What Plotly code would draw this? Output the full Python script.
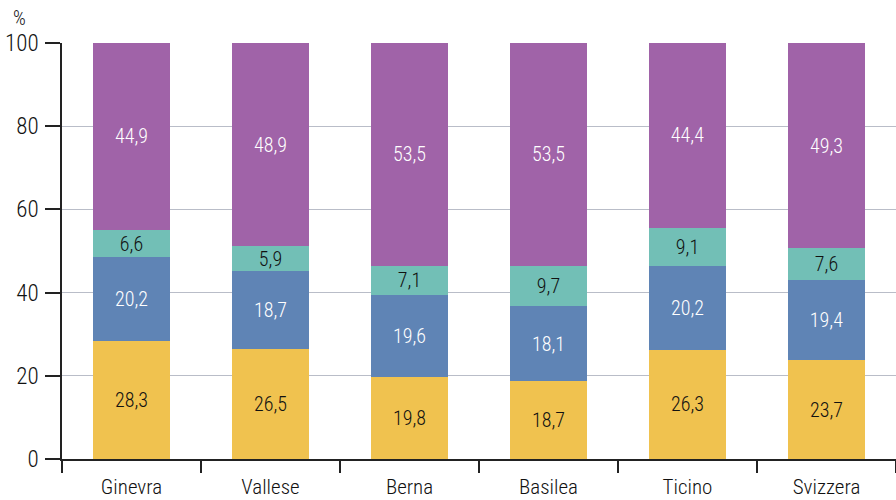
import plotly.graph_objects as go

# Regions and shares (%) of each component
regions = ["Ginevra", "Vallese", "Berna", "Basilea", "Ticino", "Svizzera"]
giallo = [28.3, 26.5, 19.8, 18.7, 26.3, 23.7]
blu = [20.2, 18.7, 19.6, 18.1, 20.2, 19.4]
verde = [6.6, 5.9, 7.1, 9.7, 9.1, 7.6]
viola = [44.9, 48.9, 53.5, 53.5, 44.4, 49.3]
y_ticks = [0, 20, 40, 60, 80, 100]

FONT = "Roboto Condensed, DejaVu Sans Condensed, sans-serif"
WEIGHT = 300

series = [
    (giallo, "#F0C24F", "#111111"),
    (blu, "#5F84B5", "#FFFFFF"),
    (verde, "#72BFB6", "#111111"),
    (viola, "#A063A8", "#FFFFFF"),
]

fig = go.Figure()
for values, color, txtcolor in series:
    fig.add_trace(go.Bar(
        x=regions,
        y=values,
        marker=dict(color=color, line=dict(width=0)),
        text=[f"{v:.1f}".replace(".", ",") for v in values],
        textposition="inside",
        insidetextanchor="middle",
        textangle=0,
        constraintext="none",
        textfont=dict(family=FONT, size=20, color=txtcolor, weight=WEIGHT),
        width=0.56,
        hoverinfo="skip",
    ))

fig.update_layout(
    barmode="stack",
    width=896,
    height=500,
    margin=dict(l=62, r=0, t=43, b=41),
    paper_bgcolor="white",
    plot_bgcolor="white",
    showlegend=False,
    separators=",.",
    font=dict(family=FONT, color="#111111", weight=WEIGHT),
)

fig.update_xaxes(
    type="category",
    tickson="boundaries",
    ticks="outside",
    ticklen=12,
    tickwidth=1.5,
    tickcolor="#222222",
    showgrid=False,
    showline=True,
    linecolor="#222222",
    linewidth=1.5,
    ticklabelstandoff=8,
    tickfont=dict(family=FONT, size=21, color="#111111", weight=WEIGHT),
    range=[-0.5, 5.5],
)

fig.update_yaxes(
    range=[0, 100],
    tickvals=y_ticks,
    ticks="outside",
    ticklen=15,
    tickwidth=1.5,
    tickcolor="#222222",
    showgrid=True,
    gridcolor="#B9BDC8",
    gridwidth=1,
    showline=True,
    linecolor="#222222",
    linewidth=1.5,
    zeroline=False,
    ticklabelstandoff=2,
    tickfont=dict(family=FONT, size=23, color="#111111", weight=WEIGHT),
)

fig.add_annotation(
    text="%", xref="paper", yref="paper", x=-0.051, y=1.0, yshift=25,
    showarrow=False, xanchor="center", yanchor="middle",
    font=dict(family=FONT, size=20, color="#111111", weight=WEIGHT),
)

fig.write_html("out.html")
